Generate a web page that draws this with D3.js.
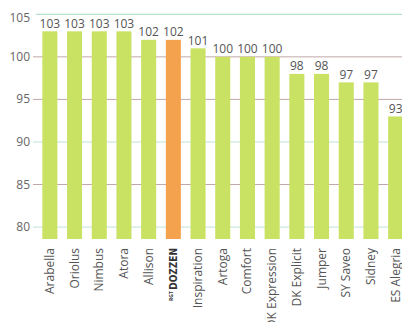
<!DOCTYPE html>
<html><head><meta charset="utf-8">
<script src="https://cdn.jsdelivr.net/npm/d3@7"></script>
<style>body{margin:0;background:#fff}svg{display:block}</style>
</head><body><svg id="c" width="402" height="322"></svg>
<script>
const categories = ["Arabella","Oriolus","Nimbus","Atora","Allison","RGT DOZZEN","Inspiration","Artoga","Comfort","DK Expression","DK Explicit","Jumper","SY Saveo","Sidney","ES Alegria"];
const values = [103,103,103,103,102,102,101,100,100,100,98,98,97,97,93];
const highlight = "RGT DOZZEN";
const yTicks = [80,85,90,95,100,105];

const svg = d3.select("#c");
const y = d3.scaleLinear().domain([78.6,105]).range([239,14.3]);
const x = d3.scaleBand().domain(categories).range([37.5,408]).paddingInner(0.39).paddingOuter(0.195);

const gridColor = v => (v===100||v===95||v===85) ? "#c2a8a8" : "#bfe3d2";
svg.append("g").selectAll("line").data(yTicks).join("line")
  .attr("x1", d => d===105 ? 36 : 33).attr("x2", 402)
  .attr("y1", d => y(d)).attr("y2", d => y(d))
  .attr("stroke", d => d===105 ? "#a9d9bd" : gridColor(d)).attr("stroke-width", 1);
svg.append("g").selectAll("text").data(yTicks).join("text")
  .attr("x", 30).attr("y", d => y(d)+ (d===105? 8 : 4))
  .attr("text-anchor","end").attr("font-family","'Open Sans', sans-serif").attr("font-size",12)
  .attr("fill","#666").text(d => d);
svg.append("g").selectAll("rect").data(categories).join("rect")
  .attr("x", d => x(d)).attr("width", x.bandwidth())
  .attr("y", (d,i) => y(values[i])).attr("height", (d,i) => y(78.6) - y(values[i]))
  .attr("fill", d => d===highlight ? "#f5a24f" : "#c9e263");
svg.append("g").selectAll("text").data(categories).join("text")
  .attr("x", d => x(d)+x.bandwidth()/2).attr("y", (d,i) => y(values[i]) - 3.5)
  .attr("text-anchor","middle").attr("font-family","'Open Sans', sans-serif").attr("font-size",12)
  .attr("fill","#555").text((d,i) => values[i]);
const cl = svg.append("g").selectAll("text").data(categories).join("text")
  .attr("transform", d => `translate(${x(d)+x.bandwidth()/2+4},248) rotate(-90)`)
  .attr("text-anchor","end").attr("font-family","'Open Sans', sans-serif").attr("font-size",12)
  .attr("fill","#555");
cl.each(function(d){
  const t = d3.select(this);
  if (d===highlight) {
    t.append("tspan").attr("font-size",5).attr("font-weight","bold").attr("fill","#333").attr("dy",-4).text("RGT ");
    t.append("tspan").attr("font-size",10).attr("font-weight","bold").attr("font-family","'DejaVu Sans Condensed', sans-serif").attr("fill","#333").attr("dy",4).text("DOZZEN");
  } else t.text(d);
});
</script></body></html>
